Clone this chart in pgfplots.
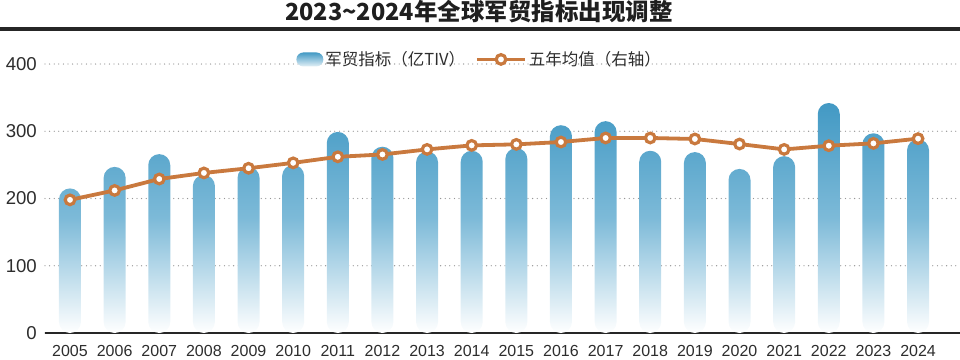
\documentclass[border=0pt]{standalone}
\usepackage{pgfplots}
\pgfplotsset{compat=1.18}
\usepackage{fontspec}
\setmainfont{Liberation Sans}
\newfontfamily\cjk{Noto Sans CJK SC}
\definecolor{barblue}{RGB}{66,153,196}
\definecolor{barmid}{RGB}{125,186,216}
\definecolor{orangec}{RGB}{201,121,62}
\definecolor{gridg}{RGB}{150,150,150}
\definecolor{txt}{RGB}{45,45,45}
\begin{document}
\begin{tikzpicture}
\useasboundingbox (0,0) rectangle (960pt,359pt);
\node[font=\cjk\bfseries\fontsize{23.5}{26}\selectfont, text=black!88] at (479pt,347.5pt) {2023\textasciitilde 2024年全球军贸指标出现调整};
\fill[black!85] (0pt,328pt) rectangle (960pt,332pt);
\begin{axis}[
  at={(45pt,26pt)}, anchor=south west,
  scale only axis, width=915pt, height=269pt,
  xmin=-0.56, xmax=19.94, ymin=0, ymax=400,
  axis x line=bottom, axis y line=left,
  x axis line style={draw=black!85, line width=1.5pt, -},
  y axis line style={draw=none},
  major tick length=0pt,
  ytick={0,100,200,300,400},
  xtick={0,...,19},
  xticklabels={2005,2006,2007,2008,2009,2010,2011,2012,2013,2014,2015,2016,2017,2018,2019,2020,2021,2022,2023,2024},
  /pgf/number format/assume math mode=true,
  yticklabel style={font=\fontsize{18.6}{20}\selectfont, text=txt, anchor=east, inner sep=0pt, xshift=-8pt},
  xticklabel style={font=\fontsize{16}{18}\selectfont, text=txt, anchor=north, inner sep=0pt, yshift=-12pt},
  ymajorgrids,
  grid style={draw=gridg, line width=1.3pt, dash pattern=on 0pt off 4.6pt, line cap=round},
  clip=false,
  legend style={at={(0.475,1.017)}, anchor=center, draw=none, fill=none, legend columns=2,
    font=\cjk\fontsize{16.5}{18}\selectfont, text=txt,
    /tikz/every even column/.append style={column sep=8pt}},
]
\addplot[ybar, bar width=22pt, draw=none, top color=barblue, bottom color=white, middle color=barmid, rounded corners=11pt,
  legend image code/.code={\shade[top color=barblue, bottom color=white!85!barblue, rounded corners=7pt] (0pt,-7pt) rectangle (27pt,7pt);}]
coordinates {
(0,215) (1,247) (2,266) (3,235) (4,247) (5,250) (6,299) (7,277) (8,270) (9,271)
(10,275) (11,309) (12,315) (13,271) (14,269) (15,244) (16,263) (17,342) (18,297) (19,288)
};
\addlegendentry{军贸指标（亿TIV）}
\addplot[color=orangec, line width=3.8pt, mark=*, mark size=4.8pt, mark options={fill=white, draw=orangec, line width=3.2pt},
  legend image code/.code={\draw[orangec, line width=3.8pt] (0pt,0pt) -- (48pt,0pt); \draw[orangec, fill=white, line width=3.2pt] (24pt,0pt) circle (4.8pt);}]
coordinates {
(0,198) (1,212) (2,229) (3,238) (4,245) (5,253) (6,262) (7,265.5) (8,273) (9,279)
(10,280.5) (11,284) (12,290) (13,290) (14,288.5) (15,281) (16,273) (17,278.5) (18,282) (19,289)
};
\addlegendentry{五年均值（右轴）}
\end{axis}
\end{tikzpicture}
\end{document}
